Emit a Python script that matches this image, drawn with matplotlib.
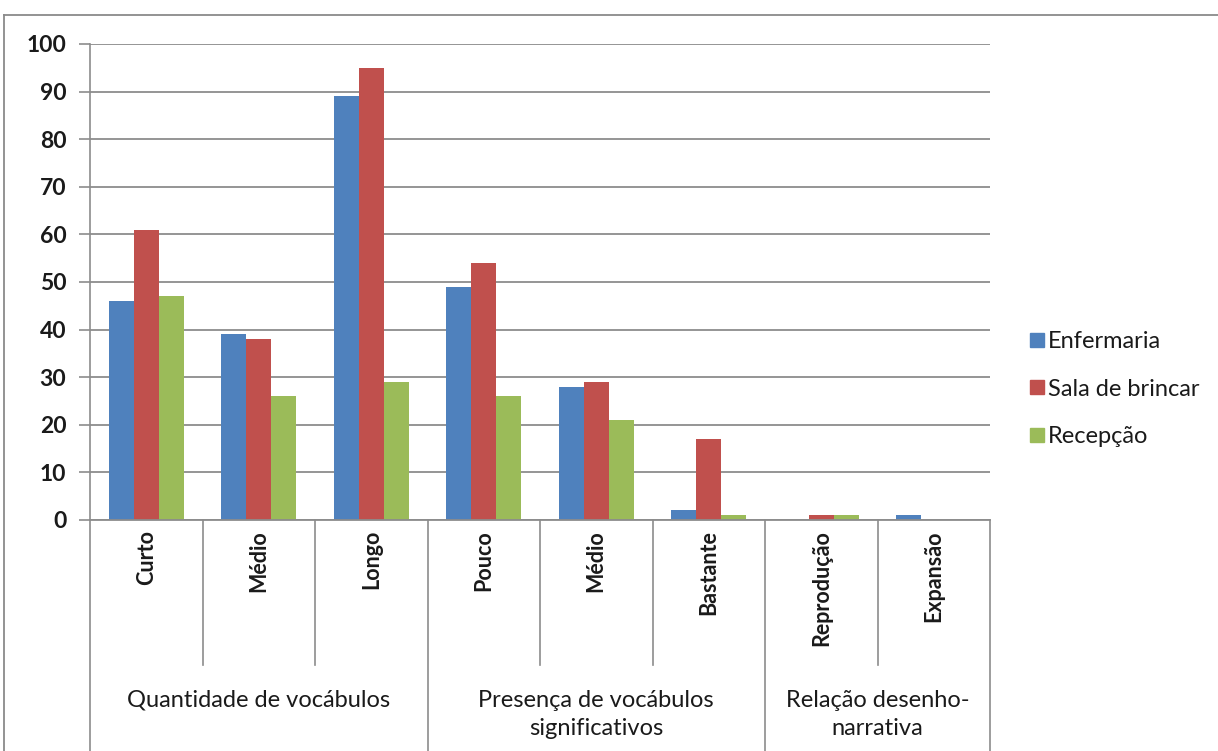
import numpy as np
import matplotlib
matplotlib.use("Agg")
import matplotlib.pyplot as plt
from matplotlib.lines import Line2D

# Data
categories = ["Curto", "Médio", "Longo", "Pouco", "Médio", "Bastante", "Reprodução", "Expansão"]
groups = ["Quantidade de vocábulos", "Presença de vocábulos\nsignificativos", "Relação desenho-\nnarrativa"]
group_sizes = [3, 3, 2]
series_names = ["Enfermaria", "Sala de brincar", "Recepção"]
enfermaria = [46, 39, 89, 49, 28, 2, 0, 1]
sala_de_brincar = [61, 38, 95, 54, 29, 17, 1, 0]
recepcao = [47, 26, 29, 26, 21, 1, 1, 0]
y_ticks = [0, 10, 20, 30, 40, 50, 60, 70, 80, 90, 100]

colors = ["#4F81BD", "#C0504D", "#9BBB59"]
grid_color = "#8C8C8C"
text_color = "#1A1A1A"
font = ["Lato", "DejaVu Sans"]

W, H = 1218, 751
fig = plt.figure(figsize=(W / 100, H / 100), dpi=100)
ax = fig.add_axes([90 / W, 1 - 520 / H, 900 / W, 476 / H])

x = np.arange(len(categories))
bw = 1 / 4.5
for i, (vals, name) in enumerate(zip([enfermaria, sala_de_brincar, recepcao], series_names)):
    ax.bar(x + (i - 1) * bw, vals, width=bw, color=colors[i], label=name, zorder=3)

ax.set_xlim(-0.5, len(categories) - 0.5)
ax.set_ylim(0, 100)
ax.set_yticks(y_ticks)
ax.set_yticklabels([str(v) for v in y_ticks], fontsize=16.5, fontweight="bold",
                   family=font, color=text_color)
ax.tick_params(axis="y", length=8, width=1.2, color=grid_color, pad=9)
ax.set_xticks([])
ax.yaxis.grid(True, color=grid_color, linewidth=1.3, zorder=0)
for s in ["top", "right", "bottom"]:
    ax.spines[s].set_visible(False)
ax.spines["left"].set_color(grid_color)
ax.spines["left"].set_linewidth(1.2)

# Category axis baseline and multi-level separators
trans = ax.get_xaxis_transform()
ax.plot([-0.5, len(categories) - 0.5], [0, 0], transform=trans, color=grid_color,
        lw=1.3, clip_on=False, zorder=4)
inner_bottom = (520 - 665) / 476
outer_bottom = (520 - 760) / 476
bounds = np.cumsum([0] + group_sizes) - 0.5
for b in np.arange(-0.5, len(categories)):
    bottom = outer_bottom if b in bounds else inner_bottom
    ax.plot([b, b], [0, bottom], transform=trans, color=grid_color, lw=1.2, clip_on=False)

for xi, lab in zip(x, categories):
    ax.text(xi, -10 / 476, lab, transform=trans, rotation=90, ha="center", va="top",
            fontsize=15.5, fontweight="bold", family=font, color=text_color)

for g, lab in enumerate(groups):
    center = (bounds[g] + bounds[g + 1]) / 2
    ax.text(center, (520 - 690) / 476, lab, transform=trans, ha="center", va="top",
            fontsize=17, family=font, color=text_color, linespacing=1.4)

# Legend
handles = [Line2D([], [], marker="s", linestyle="none", markersize=9.5,
                  markerfacecolor=c, markeredgecolor=c) for c in colors]
fig.legend(handles, series_names, loc="center left", bbox_to_anchor=(1007 / W, 1 - 389 / H),
           frameon=False, prop={"family": font, "size": 17}, handletextpad=0.1,
           labelspacing=1.13, handlelength=0.75, labelcolor=text_color)

# Outer chart frame
fig.add_artist(Line2D([4 / W, 1], [1 - 15 / H, 1 - 15 / H], transform=fig.transFigure,
                     color="#8A8A8A", lw=1.3))
fig.add_artist(Line2D([4 / W, 4 / W], [0, 1 - 15 / H], transform=fig.transFigure,
                     color="#8A8A8A", lw=1.3))

fig.savefig("out.png", dpi=100, facecolor="white")
